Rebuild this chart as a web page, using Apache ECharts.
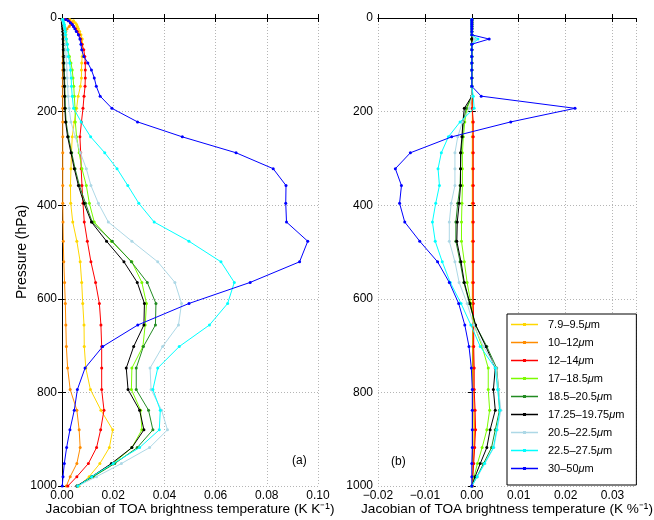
<!DOCTYPE html>
<html><head><meta charset="utf-8">
<script src="https://cdn.jsdelivr.net/npm/echarts@6/dist/echarts.min.js"></script>
<style>html,body{margin:0;padding:0;background:#fff}#c{width:654px;height:520px}</style>
</head><body><div id="c"></div>
<script>
// Pressure levels (hPa)
const levels = [3, 6, 10, 14, 18, 23, 29, 36, 45, 56, 68, 82, 96, 111, 128, 146, 167, 193, 222, 254, 288, 322, 358, 396, 436, 477, 521, 565, 610, 656, 702, 748, 794, 838, 880, 918, 952, 980, 1000];

const names = ['7.9–9.5μm', '10–12μm', '12–14μm', '17–18.5μm', '18.5–20.5μm', '17.25–19.75μm', '20.5–22.5μm', '22.5–27.5μm', '30–50μm'];
const colors = ['#FFD700', '#FF8C00', '#FF0000', '#7CFC00', '#228B22', '#000000', '#ADD8E6', '#00FFFF', '#0000FF'];

// (a) temperature Jacobians, K K^-1
const tYellow = [0.003, 0.0045, 0.0052, 0.0057, 0.006, 0.0064, 0.0069, 0.0074, 0.0079, 0.008, 0.008, 0.0079, 0.0077, 0.0076, 0.0076, 0.0072, 0.0063, 0.0057, 0.0048, 0.004, 0.0037, 0.0035, 0.0033, 0.0034, 0.0042, 0.0058, 0.0071, 0.0077, 0.0081, 0.0086, 0.0087, 0.0093, 0.0111, 0.0152, 0.0198, 0.0185, 0.0148, 0.0106, 0.0066];
const tOrange = [0.001, 0.003, 0.004, 0.0035, 0.0028, 0.002, 0.0015, 0.0011, 0.0008, 0.0006, 0.0005, 0.0004, 0.0003, 0.0003, 0.0003, 0.0003, 0.0003, 0.0003, 0.0003, 0.0003, 0.0003, 0.0003, 0.0003, 0.0003, 0.0004, 0.0005, 0.0007, 0.001, 0.0013, 0.0015, 0.0017, 0.0022, 0.0032, 0.0058, 0.0067, 0.0071, 0.0058, 0.0032, 0.0017];
const tRed = [0.0012, 0.0024, 0.0033, 0.004, 0.0046, 0.0053, 0.006, 0.0067, 0.0073, 0.0078, 0.0085, 0.0089, 0.0091, 0.0091, 0.0091, 0.009, 0.0086, 0.0082, 0.0076, 0.007, 0.0073, 0.0075, 0.0078, 0.0082, 0.0087, 0.0099, 0.0113, 0.0131, 0.0146, 0.0152, 0.0155, 0.0155, 0.0155, 0.0164, 0.0151, 0.0135, 0.0103, 0.0058, 0.0023];
const tLime = [0.0001, 0.0003, 0.0005, 0.0007, 0.0009, 0.0011, 0.0013, 0.0015, 0.0017, 0.002, 0.0023, 0.0029, 0.0035, 0.004, 0.0043, 0.0046, 0.0048, 0.0051, 0.0052, 0.0057, 0.0067, 0.0078, 0.0095, 0.0107, 0.0126, 0.0193, 0.0273, 0.0312, 0.033, 0.0325, 0.0316, 0.0273, 0.0271, 0.0307, 0.0312, 0.0273, 0.02, 0.0122, 0.006];
const tDkGreen = [0.0001, 0.0002, 0.0003, 0.0003, 0.0004, 0.0004, 0.0005, 0.0005, 0.0006, 0.0006, 0.0007, 0.0007, 0.0008, 0.0009, 0.001, 0.0011, 0.0012, 0.0013, 0.0016, 0.0025, 0.0038, 0.0051, 0.0068, 0.0092, 0.0118, 0.0196, 0.0271, 0.0333, 0.0367, 0.0365, 0.0318, 0.029, 0.029, 0.0338, 0.0355, 0.0294, 0.0206, 0.0122, 0.0059];
const tBlack = [0.0, 0.0001, 0.0001, 0.0002, 0.0002, 0.0003, 0.0003, 0.0004, 0.0004, 0.0005, 0.0005, 0.0006, 0.0006, 0.0007, 0.0008, 0.0009, 0.001, 0.0011, 0.0014, 0.0022, 0.0035, 0.0048, 0.0064, 0.0086, 0.0115, 0.0174, 0.0242, 0.0294, 0.0322, 0.032, 0.028, 0.0251, 0.0258, 0.0303, 0.032, 0.0273, 0.0193, 0.0116, 0.0058];
const tLtBlue = [0.0001, 0.0003, 0.0005, 0.0007, 0.0008, 0.001, 0.0011, 0.0012, 0.0013, 0.0014, 0.0015, 0.0016, 0.0018, 0.0019, 0.002, 0.0022, 0.0024, 0.0028, 0.0035, 0.0052, 0.0072, 0.0095, 0.0113, 0.0142, 0.0181, 0.0273, 0.0374, 0.0441, 0.0467, 0.0455, 0.0393, 0.0344, 0.0348, 0.0389, 0.0412, 0.0342, 0.0232, 0.0135, 0.0062];
const tCyan = [0.0003, 0.0005, 0.0007, 0.0009, 0.001, 0.0012, 0.0013, 0.0014, 0.0017, 0.0021, 0.0023, 0.0025, 0.003, 0.0033, 0.0036, 0.0037, 0.004, 0.0045, 0.0075, 0.0112, 0.0167, 0.0215, 0.0257, 0.03, 0.036, 0.0496, 0.0621, 0.0673, 0.0647, 0.0576, 0.0458, 0.0374, 0.0355, 0.0384, 0.038, 0.0303, 0.02, 0.0116, 0.0062];
const tBlue = [0.0015, 0.0025, 0.0033, 0.004, 0.0045, 0.005, 0.0056, 0.0064, 0.007, 0.0074, 0.0077, 0.0085, 0.0101, 0.0115, 0.0126, 0.0134, 0.0149, 0.0195, 0.0295, 0.047, 0.068, 0.0825, 0.0875, 0.0874, 0.0877, 0.096, 0.0928, 0.0735, 0.0496, 0.0296, 0.0159, 0.009, 0.006, 0.0048, 0.0031, 0.0018, 0.0009, 0.0004, 0.0001];

// (b) humidity Jacobians, K %^-1
const qYellow = [0, 0, 0, 0, 0, 0, 0, 0, 0, 0, 0, 0, 0, 0, 0, 0, 0, 0.0001, 0.0001, 0.0001, 0.0001, 0.0001, 0.0001, 0.0001, 0.0001, 0.0001, 0.0001, 0.0001, 0.0001, 0.0002, 0.0002, 0.0002, 0.0002, 0.0003, 0.0003, 0.0003, 0.0002, 0.0001, 0.0001];
const qOrange = [0, 0, 0, 0, 0, 0, 0, 0, 0, 0, 0, 0, 0, 0, 0, 0, 0, 0.0001, 0.0002, 0.0002, 0.0002, 0.0002, 0.0002, 0.0002, 0.0002, 0.0002, 0.0002, 0.0002, 0.0002, 0.0003, 0.0003, 0.0004, 0.0004, 0.0005, 0.0006, 0.0005, 0.0003, 0.0002, 0.0001];
const qRed = [0, 0, 0, 0, 0, 0, 0, 0, 0, 0, 0, 0, 0, 0, 0, 0, 0, 0.0001, 0.0003, 0.0003, 0.0003, 0.0003, 0.0003, 0.0003, 0.0003, 0.0003, 0.0003, 0.0003, 0.0003, 0.0004, 0.0004, 0.0005, 0.0005, 0.0007, 0.0008, 0.0006, 0.0004, 0.0002, 0.0001];
const qLime = [0, 0, 0, 0, 0, 0, 0, 0, 0, 0, 0, 0, 0, 0, 0, 0, 0, -0.001, -0.0015, -0.0018, -0.002, -0.002, -0.002, -0.0021, -0.0022, -0.0022, -0.0016, -0.001, -0.0002, 0.0005, 0.0022, 0.0035, 0.0035, 0.0038, 0.0032, 0.0022, 0.0012, 0.0005, 0];
const qDkGreen = [0, 0, 0, 0, 0, 0, 0, 0, 0, 0, 0, 0, 0, 0, 0, 0, 0, -0.0012, -0.0018, -0.002, -0.0023, -0.0024, -0.0025, -0.003, -0.0034, -0.0034, -0.0025, -0.0017, -0.0005, 0.0008, 0.0032, 0.0053, 0.0057, 0.0059, 0.005, 0.0042, 0.0025, 0.0011, 0];
const qBlack = [0, 0, 0, 0, 0, 0, 0, 0, 0, 0, 0, 0, 0, 0, 0, 0, 0, -0.0016, -0.0019, -0.0021, -0.0024, -0.0024, -0.0024, -0.0027, -0.0031, -0.0032, -0.0023, -0.0016, -0.0004, 0.0008, 0.003, 0.005, 0.0046, 0.005, 0.0039, 0.0032, 0.0018, 0.0007, 0];
const qLtBlue = [0, 0, 0, 0, 0, 0, 0, 0, 0.0006, 0, 0, 0, 0, 0, 0, 0, 0, -0.0005, -0.002, -0.003, -0.0036, -0.0036, -0.0036, -0.0044, -0.0048, -0.0048, -0.0036, -0.0027, -0.001, 0.0004, 0.0025, 0.0052, 0.0057, 0.0062, 0.0054, 0.0047, 0.0028, 0.0012, 0];
const qCyan = [0, 0, 0, 0, 0, 0, 0, 0, 0.0013, 0, 0, 0, 0, 0, 0, 0, 0.0003, 0.0005, -0.0025, -0.005, -0.0065, -0.0072, -0.0069, -0.0077, -0.0084, -0.0078, -0.0063, -0.0046, -0.0023, -0.0002, 0.0018, 0.005, 0.0055, 0.006, 0.0053, 0.0046, 0.0027, 0.0011, 0];
const qBlue = [0, 0, 0, 0, 0, 0, 0, 0, 0.0037, 0, 0, 0, 0, 0, 0, 0, 0.002, 0.022, 0.0083, -0.0043, -0.0131, -0.0163, -0.015, -0.0154, -0.0143, -0.0111, -0.0073, -0.0048, -0.0028, -0.0015, -0.0006, -0.0001, 0.0001, 0.0001, 0.0001, 0.0001, 0, 0, 0];

const pressureTicks = [0, 200, 400, 600, 800, 1000];

const tSeries = [tYellow, tOrange, tRed, tLime, tDkGreen, tBlack, tLtBlue, tCyan, tBlue];
const qSeries = [qYellow, qOrange, qRed, qLime, qDkGreen, qBlack, qLtBlue, qCyan, qBlue];

const FONT = 'Liberation Sans';
const pair = arr => arr.map((v, i) => [v, levels[i]]);
const fmt = v => {
  if (Math.abs(v) < 1e-9) v = 0;
  return v.toFixed(2).replace('-', '\u2212');
};

const gridLine = { show: true, lineStyle: { color: '#b5b5b5', type: [1, 2], width: 1 } };
const axLine = { show: true, lineStyle: { color: '#000', width: 1 } };
const tick = { show: true, inside: true, length: 4, lineStyle: { color: '#000' } };
const lbl = { color: '#000', fontFamily: FONT, fontSize: 12 };

function xAx(grid, min, max, interval, pos, main, name) {
  return {
    type: 'value', gridIndex: grid, min, max, interval, position: pos,
    axisLine: axLine, axisTick: tick,
    axisLabel: main ? Object.assign({ margin: 4, formatter: fmt, showMaxLabel: grid === 0 }, lbl) : { show: false },
    splitLine: main ? gridLine : { show: false },
    name: main ? name : '', nameLocation: 'middle', nameGap: 16, nameMoveOverlap: false,
    nameTextStyle: { color: '#000', fontFamily: FONT, fontSize: 13.6 }
  };
}
function yAx(grid, pos, main, name) {
  return {
    type: 'value', gridIndex: grid, min: 0, max: 1000, interval: 200, inverse: true, position: pos,
    axisLine: axLine, axisTick: tick,
    axisLabel: main ? Object.assign({ margin: 5, formatter: v => pressureTicks.includes(v) ? String(v) : '' }, lbl) : { show: false },
    splitLine: main ? gridLine : { show: false },
    name: name || '', nameLocation: 'middle', nameGap: 33, nameMoveOverlap: false,
    nameTextStyle: { color: '#000', fontFamily: FONT, fontSize: 14 }
  };
}

const series = [];
tSeries.forEach((d, i) => series.push({
  name: names[i], type: 'line', xAxisIndex: 0, yAxisIndex: 0, data: pair(d),
  symbol: 'circle', symbolSize: 3, showSymbol: true, color: colors[i],
  lineStyle: { width: 1, color: colors[i] }, itemStyle: { color: colors[i] }, z: 2 + i
}));
qSeries.forEach((d, i) => series.push({
  name: names[i], type: 'line', xAxisIndex: 1, yAxisIndex: 1, data: pair(d),
  symbol: 'circle', symbolSize: 3, showSymbol: true, color: colors[i],
  lineStyle: { width: 1, color: colors[i] }, itemStyle: { color: colors[i] }, z: 2 + i
}));

const legendIcon = 'path://M0,4.2H27V5.8H0Z M12,3.5H15V6.5H12Z';

const chart = echarts.init(document.getElementById('c'), null, { renderer: 'canvas' });
chart.setOption({
  animation: false,
  backgroundColor: '#fff',
  grid: [
    { left: 62, top: 18, width: 256, height: 468, containLabel: false, outerBoundsMode: 'none' },
    { left: 378, top: 18, width: 258, height: 468, containLabel: false, outerBoundsMode: 'none' }
  ],
  xAxis: [
    xAx(0, 0, 0.1, 0.02, 'bottom', true, 'Jacobian of TOA brightness temperature (K K\u207B\u00B9)'),
    xAx(1, -0.02, 0.035, 0.01, 'bottom', true, 'Jacobian of TOA brightness temperature (K %\u207B\u00B9)'),
    xAx(0, 0, 0.1, 0.02, 'top', false),
    xAx(1, -0.02, 0.035, 0.01, 'top', false)
  ],
  yAxis: [
    yAx(0, 'left', true, 'Pressure (hPa)'),
    yAx(1, 'left', true),
    yAx(0, 'right', false),
    yAx(1, 'right', false)
  ],
  legend: {
    orient: 'vertical', left: 507, top: 314,
    data: names.map(n => ({ name: n, icon: legendIcon })),
    itemWidth: 27, itemHeight: 10, itemGap: 7,
    padding: [5, 12, 11, 4],
    backgroundColor: '#fff', borderColor: '#000', borderWidth: 1, borderRadius: 0,
    formatter: n => n.replace('μm', '{i|μ}m'),
    textStyle: { color: '#000', fontFamily: FONT, fontSize: 11, padding: [0, 0, 0, 5],
      rich: { i: { fontStyle: 'italic', fontFamily: FONT, fontSize: 11, color: '#000' } } }
  },
  graphic: [
    { type: 'text', left: 292, top: 455, style: { text: '(a)', fontFamily: FONT, fontSize: 12, fill: '#000' } },
    { type: 'text', left: 391, top: 456, style: { text: '(b)', fontFamily: FONT, fontSize: 12, fill: '#000' } }
  ],
  series
});
</script></body></html>
